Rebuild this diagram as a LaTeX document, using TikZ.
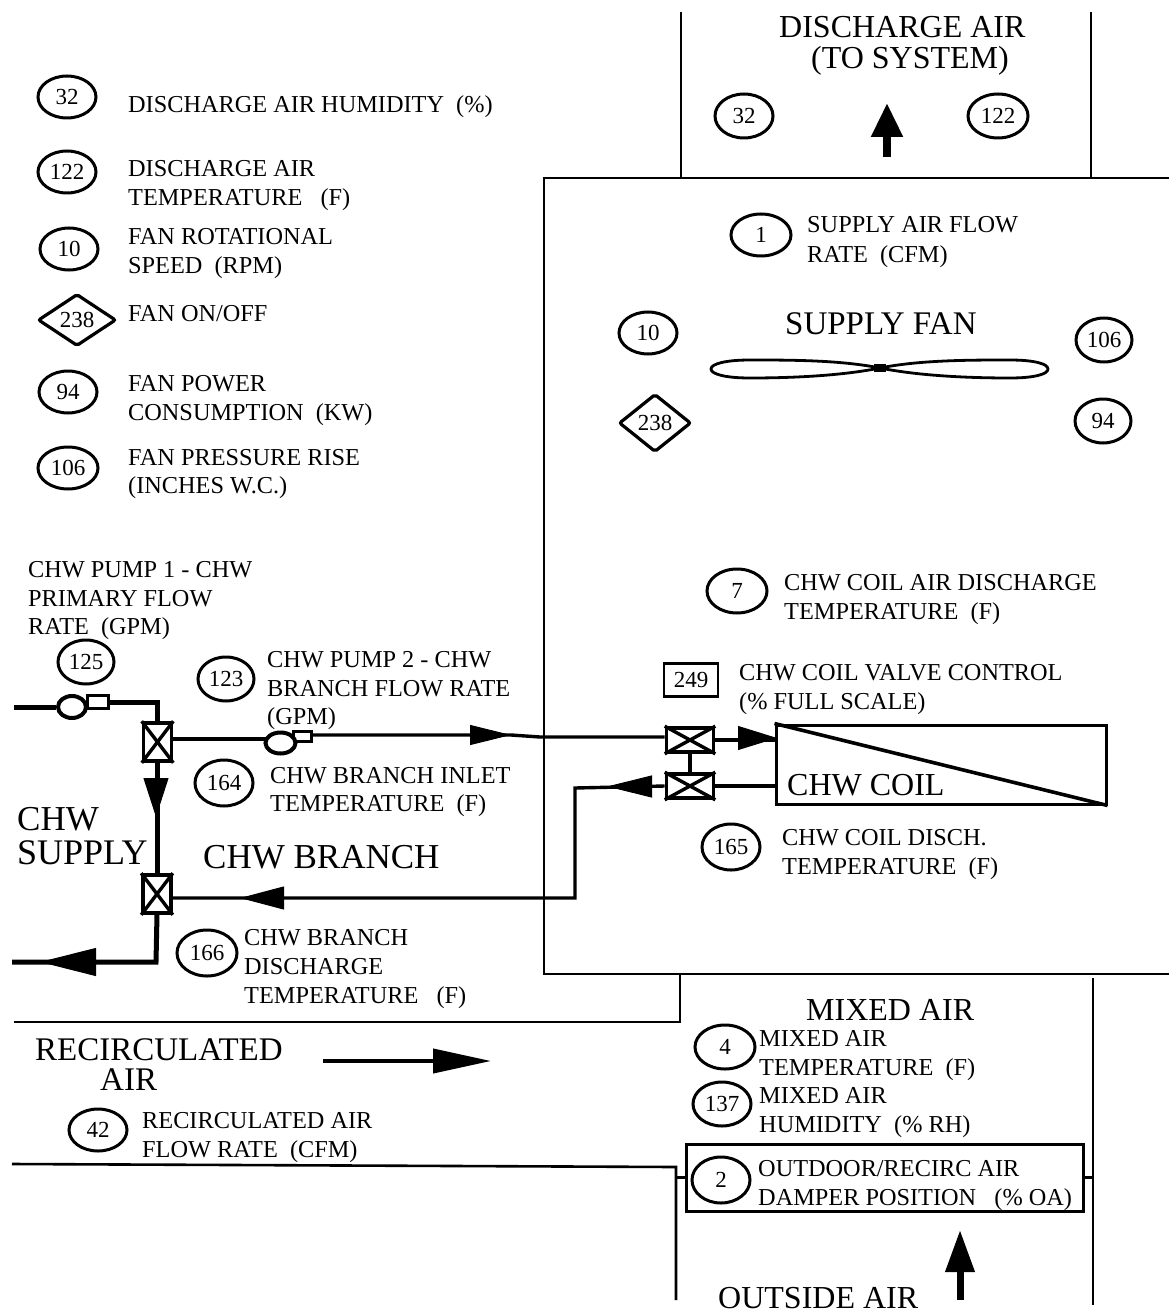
\documentclass[tikz,border=0pt]{standalone}
\usepackage{fontspec}
\setmainfont{Liberation Serif}
\usetikzlibrary{arrows.meta,shapes.geometric,calc}
\tikzset{
  oval/.style={draw,line width=3pt,ellipse,inner sep=0pt,font=\fontsize{23}{23}\selectfont},
  sq/.style={draw,line width=2.6pt,rectangle,inner sep=0pt,font=\fontsize{23}{23}\selectfont},
  dia/.style={draw,line width=3.2pt,diamond,inner sep=0pt,rounded corners=2pt,font=\fontsize{23}{23}\selectfont},
  small/.style={anchor=base west,inner sep=0pt,font=\fontsize{24.3}{24.3}\selectfont},
  large/.style={anchor=base west,inner sep=0pt},
  wall/.style={line width=2.6pt},
  pipe/.style={line width=5pt},
  thinpipe/.style={line width=3.4pt},
  headline/.style={line width=1pt},
  valve/.style={draw,line width=3.6pt,rectangle,inner sep=0pt,fill=white},
  vcross/.style={line width=3.4pt},
  pumpbody/.style={draw,line width=4pt,ellipse,inner sep=0pt,fill=white},
  pumpbox/.style={draw,line width=3pt,rectangle,inner sep=0pt,fill=white},
}
\newcommand{\ov}[6][oval]{\node[#1,minimum width=#5pt,minimum height=#6pt] (#2) at (#3) {#4};}
\newcommand{\st}[3]{\node[small] (#1) at (#2) {#3};}
\newcommand{\lt}[4][32]{\node[large,font=\fontsize{#1}{#1}\selectfont] (#2) at (#3) {#4};}
\begin{document}
\begin{tikzpicture}[x=1pt,y=-1pt]
\useasboundingbox (0,0) rectangle (1169,1313);
% ducts
\coordinate (dt1) at (681,12); \coordinate (db1) at (681,178);
\coordinate (dt2) at (1091,12); \coordinate (db2) at (1091,178);
\coordinate (bx1) at (1169,178); \coordinate (bx2) at (544,178);
\coordinate (bx3) at (544,974); \coordinate (bx4) at (1169,974);
\coordinate (ma1) at (680,974); \coordinate (ma2) at (680,1022); \coordinate (ma3) at (14,1022);
\coordinate (mr1) at (1093,978); \coordinate (mr2) at (1093,1305);
\coordinate (rl1) at (12,1164); \coordinate (rl2) at (676,1167); \coordinate (rl3) at (676,1300);
\draw[wall] (dt1) -- (db1); \draw[wall] (dt2) -- (db2);
\draw[wall] (bx1) -- (bx2) -- (bx3) -- (bx4);
\draw[wall] (ma1) -- (ma2) -- (ma3);
\draw[wall] (mr1) -- (mr2);
\draw[wall] (rl1) -- (rl2) -- (rl3);
% damper
\node[draw,line width=3pt,rectangle,inner sep=0pt,minimum width=397pt,minimum height=67pt] (damper) at (884.5,1177.5) {};
\draw[wall] (rl3 |- damper.west) -- (damper.west);
\draw[wall] (damper.east) -- (mr1 |- damper.east);
% legend
\ov{l32}{67,97}{32}{58}{42}
\st{t1}{128,113}{DISCHARGE AIR HUMIDITY\ \ (\%)}
\ov{l122}{67,172}{122}{58}{42}
\st{t2}{128,177}{DISCHARGE AIR}
\st{t3}{128,206}{TEMPERATURE\ \ \ (F)}
\ov{l10}{69,249}{10}{58}{42}
\st{t4}{128,245}{FAN ROTATIONAL}
\st{t5}{128,274}{SPEED\ \ (RPM)}
\ov[dia]{l238}{77,320}{238}{78}{52}
\st{t6}{128,321}{FAN ON/OFF}
\ov{l94}{68,392}{94}{58}{42}
\st{t7}{128,391}{FAN POWER}
\st{t8}{128,420}{CONSUMPTION\ \ (KW)}
\ov{l106}{68,468}{106}{60}{42}
\st{t9}{128,465}{FAN PRESSURE RISE}
\st{t10}{128,493}{(INCHES W.C.)}
% top
\lt{t11}{779,38}{DISCHARGE AIR}
\lt{t12}{811,69}{(TO SYSTEM)}
\ov{d32}{744,116}{32}{58}{44}
\ov{d122}{998,116}{122}{60}{44}
\coordinate (da1) at (887,157); \coordinate (da2) at (887,103);
\draw[line width=8pt,-{Triangle[length=34pt,width=30pt]}] (da1) -- (da2);
% fan
\ov{s1}{761,235}{1}{60}{42}
\st{t13}{807,233}{SUPPLY AIR FLOW}
\st{t14}{807,263}{RATE\ \ (CFM)}
\ov{s10}{648,333}{10}{58}{42}
\lt[33]{t15}{785,334}{SUPPLY FAN}
\ov{s106}{1104,340}{106}{56}{44}
\ov{s94}{1103,421}{94}{56}{44}
\ov[dia]{s238}{655,423}{238}{72}{58}
\node[fill=black,inner sep=0pt,minimum width=12pt,minimum height=8pt] (hub) at (880,368) {};
\coordinate (ltip) at (711,369); \coordinate (rtip) at (1048,369);
\draw[line width=2.8pt] (hub.center) .. controls (840,360) and (790,360) .. (750,360) .. controls (725,360) and (711,364) .. (ltip) .. controls (711,374) and (725,378) .. (750,378) .. controls (790,378) and (840,376) .. (hub.center);
\draw[line width=2.8pt] (hub.center) .. controls (920,360) and (970,360) .. (1010,360) .. controls (1035,360) and (1048,364) .. (rtip) .. controls (1048,374) and (1035,378) .. (1010,378) .. controls (970,378) and (920,376) .. (hub.center);
% coil zone
\ov{c7}{737,591}{7}{60}{44}
\st{t16}{784,590}{CHW COIL AIR DISCHARGE}
\st{t17}{784,619}{TEMPERATURE\ \ (F)}
\ov[sq]{c249}{691,680}{249}{54}{33}
\st{t18}{739,680}{CHW COIL VALVE CONTROL}
\st{t19}{739,709}{(\% FULL SCALE)}
\node[draw,line width=3pt,rectangle,inner sep=0pt,minimum width=330pt,minimum height=79pt] (coil) at (941,764.5) {};
\draw[line width=3.6pt] (coil.north west) -- (coil.south east);
\lt{t20}{787,795}{CHW COIL}
\ov{c165}{731,847}{165}{58}{46}
\st{t21}{782,845}{CHW COIL DISCH.}
\st{t22}{782,874}{TEMPERATURE\ \ (F)}
% valves
\node[valve,minimum width=47pt,minimum height=24pt] (v3) at (690,740) {};
\node[valve,minimum width=47pt,minimum height=24pt] (v4) at (690,786) {};
\node[valve,minimum width=28pt,minimum height=38pt] (v1) at (157.5,742) {};
\node[valve,minimum width=28pt,minimum height=38pt] (v2) at (157,894) {};
\foreach \v in {v1,v2,v3,v4}{
  \draw[vcross] (\v.north west) -- (\v.south east);
  \draw[vcross] (\v.north east) -- (\v.south west);
}
% pumps
\node[pumpbox,minimum width=21pt,minimum height=13pt] (pb1) at (97.5,702) {};
\node[pumpbody,minimum width=28pt,minimum height=22pt] (p1) at (72,707) {};
\node[pumpbox,minimum width=18pt,minimum height=10pt] (pb2) at (302,736.5) {};
\node[pumpbody,minimum width=30pt,minimum height=21pt] (p2) at (280.5,743) {};
% pipes
\coordinate (in1) at (14,707);
\draw[pipe] (in1) -- (p1.west);
\draw[pipe] (pb1.east) -| (v1.north);
\draw[pipe] (v1.south -| v2.north) -- (v2.north);
\coordinate (c2) at (156,962); \coordinate (out2) at (12,962);
\draw[pipe] (v2.south) -- (c2) -- (out2);
\coordinate (br) at (266,739);
\draw[thinpipe] (v1.east |- br) -- (br);
\coordinate (b1) at (511,735); \coordinate (b2) at (540,737);
\draw[thinpipe] (pb2.east |- b1) -- (b1) -- (b2) -- (v3.west |- b2);
\draw[thinpipe] (v3.east) -- (coil.west |- v3.east);
\draw[thinpipe] (v3.south) -- (v4.north);
\draw[thinpipe] (coil.west |- v4.east) -- (v4.east);
\coordinate (c3) at (575,788); \coordinate (c4) at (575,898);
\draw[thinpipe] (v4.west) -- (c3) -- (c4) -- (v2.east |- c4);
% arrowheads on pipes
\coordinate (h1b) at (156,778); \coordinate (h1t) at (156,817);
\draw[headline,-{Triangle[length=39pt,width=25pt]}] (h1b) -- (h1t);
\coordinate (h2b) at (96,962); \coordinate (h2t) at (40,962);
\draw[headline,-{Triangle[length=56pt,width=28pt]}] (h2b) -- (h2t);
\coordinate (h3b) at (470,735); \coordinate (h3t) at (511,735);
\draw[headline,-{Triangle[length=41pt,width=20pt]}] (h3b) -- (h3t);
\coordinate (h4b) at (738,738); \coordinate (h4t) at (777,738);
\draw[headline,-{Triangle[length=39pt,width=24pt]}] (h4b) -- (h4t);
\coordinate (h5b) at (652,786.5); \coordinate (h5t) at (607,786.5);
\draw[headline,-{Triangle[length=45pt,width=22pt]}] (h5b) -- (h5t);
\coordinate (h6b) at (284,898); \coordinate (h6t) at (240,898);
\draw[headline,-{Triangle[length=44pt,width=23pt]}] (h6b) -- (h6t);
% left labels
\st{t23}{28,577}{CHW PUMP 1 - CHW}
\st{t24}{28,606}{PRIMARY FLOW}
\st{t25}{28,634}{RATE\ \ (GPM)}
\ov{b125}{86,662}{125}{56}{44}
\ov{b123}{226,679}{123}{56}{44}
\st{t26}{267,667}{CHW PUMP 2 - CHW}
\st{t27}{267,696}{BRANCH FLOW RATE}
\st{t28}{267,724}{(GPM)}
\ov{b164}{224,783}{164}{58}{46}
\st{t29}{270,783}{CHW BRANCH INLET}
\st{t30}{270,811}{TEMPERATURE\ \ (F)}
\lt[35]{t31}{17,830}{CHW}
\lt[36]{t32}{17,864}{SUPPLY}
\lt[35]{t33}{203,868}{CHW BRANCH}
\ov{b166}{207,953}{166}{60}{46}
\st{t34}{244,945}{CHW BRANCH}
\st{t35}{244,974}{DISCHARGE}
\st{t36}{244,1003}{TEMPERATURE\ \ \ (F)}
% mixed
\lt{t37}{806,1020}{MIXED AIR}
\ov{m4}{725,1047}{4}{60}{44}
\st{t38}{759,1046}{MIXED AIR}
\st{t39}{759,1075}{TEMPERATURE\ \ (F)}
\ov{m137}{722,1104}{137}{58}{44}
\st{t40}{759,1103}{MIXED AIR}
\st{t41}{759,1132}{HUMIDITY\ \ (\% RH)}
\ov{m2}{721,1180}{2}{58}{46}
\st{t42}{758,1176}{OUTDOOR/RECIRC AIR}
\st{t43}{758,1205}{DAMPER POSITION\ \ \ (\% OA)}
% recirc
\lt[33]{t44}{35,1060}{RECIRCULATED}
\lt[33]{t45}{100,1090}{AIR}
\coordinate (ra1) at (323,1061); \coordinate (ra2) at (491,1061);
\draw[line width=4pt,-{Triangle[length=58pt,width=24pt]}] (ra1) -- (ra2);
\ov{r42}{98,1130}{42}{58}{42}
\st{t46}{142,1128}{RECIRCULATED AIR}
\st{t47}{142,1157}{FLOW RATE\ \ (CFM)}
% outside
\lt{t48}{718,1308}{OUTSIDE AIR}
\coordinate (oa1) at (960,1300); \coordinate (oa2) at (960,1230);
\draw[line width=7pt,-{Triangle[length=42pt,width=28pt]}] (oa1) -- (oa2);
\end{tikzpicture}
\end{document}
